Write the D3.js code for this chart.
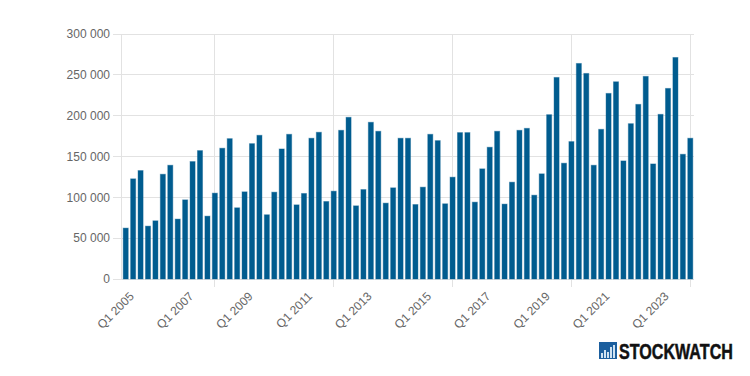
<!DOCTYPE html>
<html>
<head>
<meta charset="utf-8">
<title>Stockwatch quarterly chart</title>
<script src="https://cdn.jsdelivr.net/npm/d3@7/dist/d3.min.js"></script>
<style>
    html, body { margin: 0; padding: 0; background: #fff; }
    svg { display: block; }
    text { font-family: "Liberation Sans", Arial, sans-serif; }
    .axis text { fill: #666; font-size: 12px; }
    .axis .domain { display: none; }
    .grid .domain { display: none; }
    .grid text { display: none; }
    .grid line { stroke: #e2e2e2; stroke-width: 1; shape-rendering: crispEdges; }
</style>
</head>
<body>
<script>
    // quarters run Q1 2005 .. Q1 2024
    var categories = d3.range(77).map(function(i) {
        return "Q" + (i % 4 + 1) + " " + (2005 + Math.floor(i / 4));
    });
    var values = [
        62200, 122400, 132500, 64600, 71100, 128000, 139000, 73200, 96700, 143500,
        156900, 76800, 104900, 159800, 171500, 87000, 106500, 165400, 175600, 78500,
        106100, 158900, 176800, 90600, 104500, 172000, 179300, 94700, 107300, 181700,
        197600, 89400, 109300, 191500, 180500, 92700, 111400, 172000, 172000, 91000,
        112200, 176800, 169100, 91900, 124400, 178900, 178900, 93900, 134600, 161000,
        180500, 91500, 118300, 181700, 184100, 102400, 128500, 200800, 246300, 141500,
        167900, 263400, 251200, 139000, 182900, 226800, 241000, 144300, 189800, 213400,
        247600, 140600, 201200, 232900, 270700, 152400, 172000
    ];
    var yTicks = [0, 50000, 100000, 150000, 200000, 250000, 300000];
    var xLabels = ["Q1 2005", "Q1 2007", "Q1 2009", "Q1 2011", "Q1 2013", "Q1 2015", "Q1 2017", "Q1 2019", "Q1 2021", "Q1 2023"];
    var xGridTicks = ["Q1 2008", "Q1 2012", "Q1 2016", "Q1 2020", "Q1 2024"];

    var width = 750,
        height = 376,
        left = 122,
        right = 694,
        top_ = 33.5,
        bottom = 279;

    var svg = d3.select("body").append("svg")
        .attr("width", width)
        .attr("height", height);

    var x = d3.scaleBand()
        .domain(categories)
        .range([left, right])
        .paddingInner(0.24)
        .paddingOuter(0.12);

    var y = d3.scaleLinear()
        .domain([0, 300000])
        .range([bottom, top_]);

    var spaced = d3.formatLocale({decimal: ".", thousands: " ", grouping: [3], currency: ["", ""]}).format(",");

    // horizontal grid, runs out to the left as tick marks
    svg.append("g")
        .attr("class", "grid")
        .attr("transform", "translate(" + right + ",0)")
        .call(d3.axisLeft(y).tickValues(yTicks).tickSize(right - left + 9));

    // vertical grid, only every 16th quarter, runs below the axis
    svg.append("g")
        .attr("class", "grid")
        .attr("transform", "translate(0," + (bottom + 8) + ")")
        .call(d3.axisTop(x).tickValues(xGridTicks).tickSize(bottom + 8 - top_));

    svg.append("line")
        .attr("x1", left - 0.5).attr("x2", left - 0.5)
        .attr("y1", top_).attr("y2", bottom + 0.5)
        .attr("stroke", "#e2e2e2")
        .attr("shape-rendering", "crispEdges");

    var inset = 0.3;
    svg.selectAll("rect.bar")
        .data(values)
      .enter().append("rect")
        .attr("class", "bar")
        .attr("x", function(d, i) { return x(categories[i]) + inset; })
        .attr("y", function(d) { return y(d); })
        .attr("width", x.bandwidth() - 2 * inset)
        .attr("height", function(d) { return bottom - y(d); })
        .attr("fill", "#005c8f")
        .attr("stroke", "#005c8f")
        .attr("stroke-opacity", 0.4)
        .attr("stroke-width", 1);

    var yAxis = svg.append("g")
        .attr("class", "axis")
        .attr("transform", "translate(" + (left - 9) + ",0)")
        .call(d3.axisLeft(y).tickValues(yTicks).tickSize(0).tickPadding(3).tickFormat(spaced));

    var xAxis = svg.append("g")
        .attr("class", "axis")
        .attr("transform", "translate(0," + bottom + ")")
        .call(d3.axisBottom(x).tickValues(xLabels).tickSize(0));

    xAxis.selectAll("line").remove();
    yAxis.selectAll("line").remove();
    xAxis.selectAll("text")
        .attr("text-anchor", "end")
        .attr("dy", null)
        .attr("y", 0)
        .attr("transform", "translate(9,18) rotate(-45)");

    // logo
    var logo = svg.append("g").attr("transform", "translate(599,342)");
    logo.append("rect").attr("width", 18).attr("height", 17).attr("fill", "#1c5f9e");
    logo.selectAll("rect.tick")
        .data([[2, 11], [5, 8], [8, 10], [11, 5], [14, 3]])
      .enter().append("rect")
        .attr("class", "tick")
        .attr("x", function(d) { return d[0]; })
        .attr("y", function(d) { return d[1]; })
        .attr("width", 2)
        .attr("height", function(d) { return 16 - d[1]; })
        .attr("fill", "#cfe3f3");
    var logoText = logo.append("text")
        .attr("font-family", "'Liberation Sans Narrow', 'Liberation Sans', sans-serif")
        .attr("font-weight", "bold")
        .attr("font-size", 22)
        .attr("fill", "#111")
        .attr("stroke", "#111")
        .attr("stroke-width", 0.5)
        .text("STOCKWATCH");
    // squeeze to the logo's width with a transform, the natural width is too long
    var squeeze = 114 / logoText.node().getComputedTextLength();
    logoText.attr("transform", "translate(20,16.5) scale(" + squeeze + ",1)");
</script>
</body>
</html>
